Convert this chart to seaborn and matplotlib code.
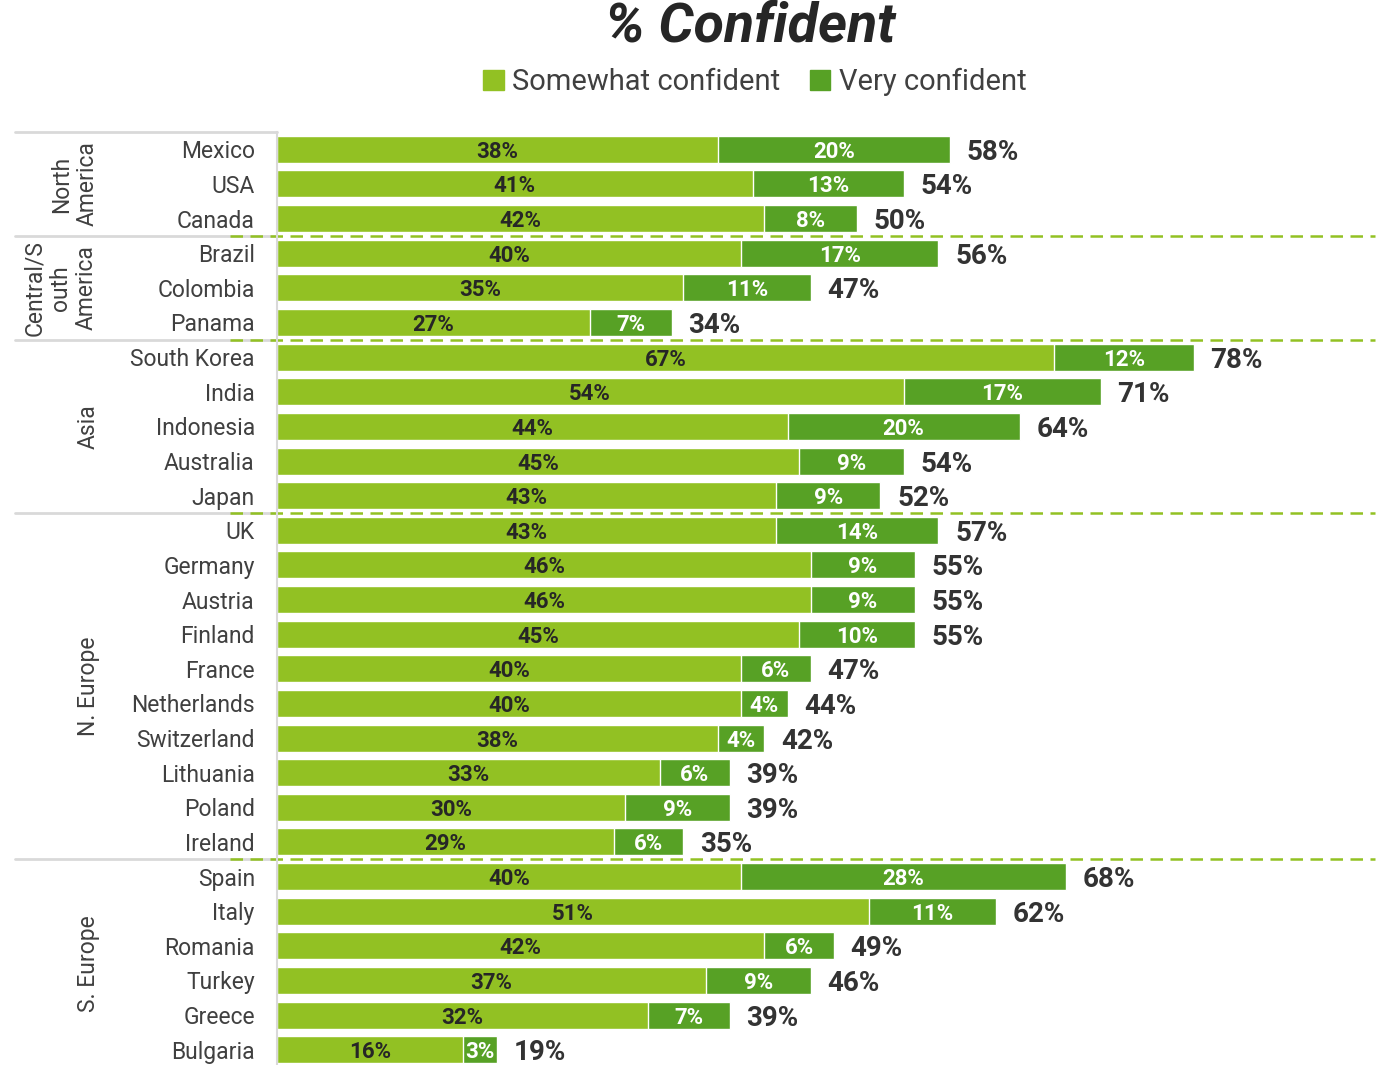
import pandas as pd
import matplotlib.pyplot as plt
import matplotlib.transforms as mtransforms
from matplotlib.patches import Patch
import seaborn as sns

# Data
countries = ['Mexico', 'USA', 'Canada',
             'Brazil', 'Colombia', 'Panama',
             'South Korea', 'India', 'Indonesia', 'Australia', 'Japan',
             'UK', 'Germany', 'Austria', 'Finland', 'France', 'Netherlands',
             'Switzerland', 'Lithuania', 'Poland', 'Ireland',
             'Spain', 'Italy', 'Romania', 'Turkey', 'Greece', 'Bulgaria']
somewhat = [38, 41, 42, 40, 35, 27, 67, 54, 44, 45, 43,
            43, 46, 46, 45, 40, 40, 38, 33, 30, 29,
            40, 51, 42, 37, 32, 16]
very = [20, 13, 8, 17, 11, 7, 12, 17, 20, 9, 9,
        14, 9, 9, 10, 6, 4, 4, 6, 9, 6,
        28, 11, 6, 9, 7, 3]
totals = [58, 54, 50, 56, 47, 34, 78, 71, 64, 54, 52,
          57, 55, 55, 55, 47, 44, 42, 39, 39, 35,
          68, 62, 49, 46, 39, 19]
regions = ['North\nAmerica', 'Central/S\nouth\nAmerica', 'Asia', 'N. Europe', 'S. Europe']
region_sizes = [3, 3, 5, 10, 6]

light = '#92C123'
dark = '#57A125'

sns.set_theme(style='white')
plt.rcParams['font.family'] = ['Roboto', 'DejaVu Sans']

df = pd.DataFrame({'country': countries, 'somewhat': somewhat, 'very': very})
df['stack'] = df['somewhat'] + df['very']

fig = plt.figure(figsize=(13.91, 10.65), dpi=100)
ax = fig.add_axes([277 / 1391, 0, 1 - 277 / 1391, 1 - 132 / 1065])

# stacked bars: full length first, then the lower part on top
sns.barplot(data=df, x='stack', y='country', color=dark, width=0.78, saturation=1,
            edgecolor='white', linewidth=1, orient='h', ax=ax)
sns.barplot(data=df, x='somewhat', y='country', color=light, width=0.78, saturation=1,
            edgecolor='white', linewidth=1, orient='h', ax=ax)

ax.set_xlim(0, 96)
ax.set_ylim(26.44, -0.5)
ax.set_xlabel('')
ax.set_ylabel('')
ax.set_xticks([])
ax.tick_params(axis='y', length=0, pad=16, labelsize=16.5, labelcolor='#404040')
for side in ['top', 'right', 'bottom']:
    ax.spines[side].set_visible(False)
ax.spines['left'].set_color('#d9d9d9')
ax.spines['left'].set_linewidth(1.5)

# value labels
for i in range(len(countries)):
    s, v = somewhat[i], very[i]
    ax.text(s / 2, i, f'{s}%', ha='center', va='center_baseline', fontsize=16,
            fontweight='bold', color='#262626')
    ax.text(s + v / 2, i, f'{v}%', ha='center', va='center_baseline', fontsize=16,
            fontweight='bold', color='white')
    ax.annotate(f'{totals[i]}%', xy=(s + v, i), xytext=(12, 0),
                textcoords='offset points', ha='left', va='center_baseline',
                fontsize=20, fontweight='bold', color='#333333')

# region labels and separators
trans = mtransforms.blended_transform_factory(fig.transFigure, ax.transData)
start = 0
ax.plot([15 / 1391, 277 / 1391], [-0.5, -0.5], transform=trans,
        color='#d9d9d9', lw=2, clip_on=False)
for name, n in zip(regions, region_sizes):
    center = start + (n - 1) / 2
    nlines = name.count('\n') + 1
    xc = (88 - 14 * (nlines - 1)) / 1391
    ax.text(xc, center, name, transform=trans, rotation=90, ha='center',
            va='center', multialignment='center', fontsize=16.5,
            color='#404040', linespacing=1.15, clip_on=False)
    end = start + n
    if end < len(countries):
        y = end - 0.5
        ax.plot([15 / 1391, 277 / 1391], [y, y], transform=trans,
                color='#d9d9d9', lw=2, clip_on=False)
        ax.plot([230 / 1391, 1375 / 1391], [y, y], transform=trans,
                color=light, lw=1.8, dashes=(5, 3), clip_on=False)
    start = end

fig.text(750 / 1391, 1 - 27 / 1065, '% Confident', ha='center', va='center',
         fontsize=40, fontweight='bold', fontstyle='italic', color='#262626')

handles = [Patch(color=light, label='Somewhat confident'),
           Patch(color=dark, label='Very confident')]
fig.legend(handles=handles, loc='center', bbox_to_anchor=(755 / 1391, 1 - 82 / 1065),
           ncol=2, frameon=False, fontsize=21, handlelength=0.7, handleheight=0.7,
           handletextpad=0.3, columnspacing=1.0, labelcolor='#404040')

fig.savefig('out.png', dpi=100)
